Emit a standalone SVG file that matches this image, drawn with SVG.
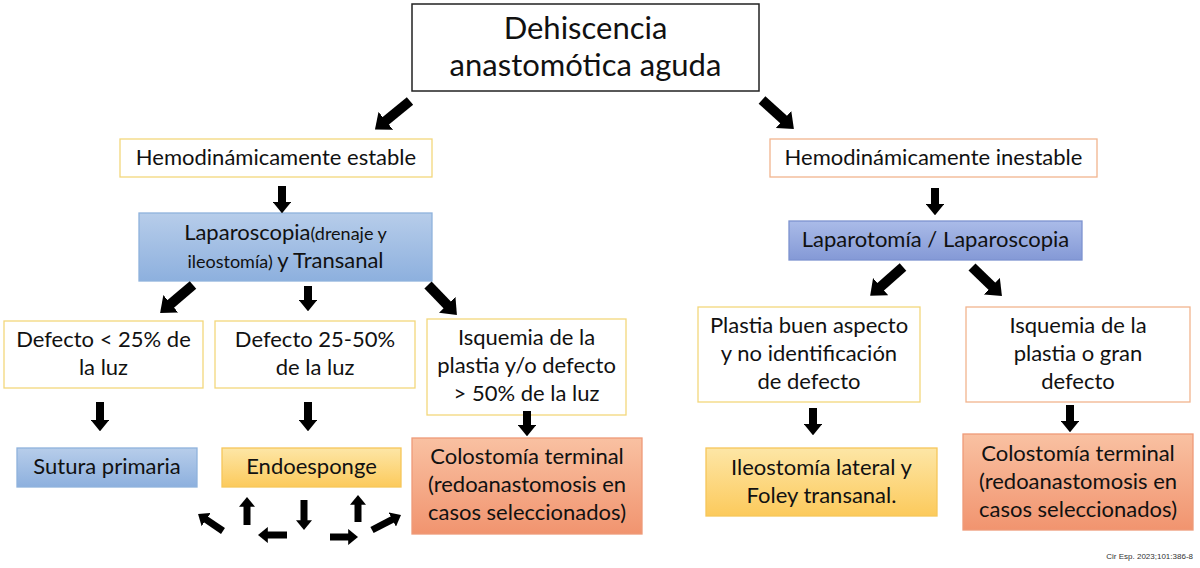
<svg xmlns="http://www.w3.org/2000/svg" width="1200" height="568" viewBox="0 0 1200 568">
<defs>
<linearGradient id="gBlue" x1="0" y1="0" x2="0" y2="1"><stop offset="0" stop-color="#b7cdea"/><stop offset="1" stop-color="#8db0de"/></linearGradient>
<linearGradient id="gPurple" x1="0" y1="0" x2="0" y2="1"><stop offset="0" stop-color="#aabbe8"/><stop offset="1" stop-color="#8499d6"/></linearGradient>
<linearGradient id="gYellow" x1="0" y1="0" x2="0" y2="1"><stop offset="0" stop-color="#fde6a6"/><stop offset="1" stop-color="#fcca5c"/></linearGradient>
<linearGradient id="gSalmon" x1="0" y1="0" x2="0" y2="1"><stop offset="0" stop-color="#f9c1a2"/><stop offset="1" stop-color="#f1946f"/></linearGradient>
<marker id="ah" viewBox="0 0 6 10" refX="0.5" refY="5" markerWidth="1.4" markerHeight="2.3" orient="auto" preserveAspectRatio="none"><path d="M0,0 L6,5 L0,10 z" fill="#000"/></marker>
<style>
text{font-family:Lato,"Liberation Sans",sans-serif;fill:#111;text-anchor:middle}
.t{font-size:22px}
.s{font-size:18px}
.title{font-size:31px}
.w{fill:#fff;stroke-width:1.3}
.yb{stroke:#f3d77c}
.ob{stroke:#f2b48e}
.blue{fill:url(#gBlue);stroke:#8fb2dc;stroke-width:1.3}
.purple{fill:url(#gPurple);stroke:#7d93cf;stroke-width:1.3}
.yel{fill:url(#gYellow);stroke:#f6c65a;stroke-width:1.3}
.sal{fill:url(#gSalmon);stroke:#ee9a78;stroke-width:1.3}
.a{stroke:#000;stroke-width:8;fill:none;marker-end:url(#ah)}
.ad{stroke:#000;stroke-width:10;fill:none;marker-end:url(#ah)}
.a2{stroke:#000;stroke-width:7;fill:none;marker-end:url(#ah)}
.cite{font-family:"Liberation Sans",sans-serif;font-size:8px;text-anchor:end;fill:#333}
</style>
</defs>
<rect width="1200" height="568" fill="#fff"/>

<g id="n-root">
<rect x="412" y="4" width="347" height="87" fill="#fff" stroke="#222" stroke-width="1.5"/>
<text class="title" x="585.5" y="39">Dehiscencia</text>
<text class="title" x="585.5" y="76">anastomótica aguda</text>
</g>

<g id="n-estable">
<rect class="w yb" x="120" y="139" width="312" height="38"/>
<text class="t" x="276" y="165">Hemodinámicamente estable</text>
</g>

<g id="n-laparoscopia">
<rect class="blue" x="139" y="213" width="293" height="68"/>
<text x="285.5" y="240"><tspan class="t">Laparoscopia</tspan><tspan class="s">(drenaje y</tspan></text>
<text x="285.5" y="268"><tspan class="s">ileostomía) </tspan><tspan class="t">y Transanal</tspan></text>
</g>

<g id="n-def25">
<rect class="w yb" x="4" y="321" width="199" height="67"/>
<text class="t" x="103.5" y="347">Defecto &lt; 25% de</text>
<text class="t" x="103.5" y="375">la luz</text>
</g>

<g id="n-def2550">
<rect class="w yb" x="215" y="321" width="200" height="67"/>
<text class="t" x="315" y="347">Defecto 25-50%</text>
<text class="t" x="315" y="375">de la luz</text>
</g>

<g id="n-isq1">
<rect class="w yb" x="427" y="319" width="199" height="96"/>
<text class="t" x="526.5" y="345">Isquemia de la</text>
<text class="t" x="526.5" y="373">plastia y/o defecto</text>
<text class="t" x="526.5" y="401">&gt; 50% de la luz</text>
</g>

<g id="n-sutura">
<rect class="blue" x="17" y="448" width="180" height="39"/>
<text class="t" x="107" y="474">Sutura primaria</text>
</g>

<g id="n-endo">
<rect class="yel" x="222" y="448" width="179" height="39"/>
<text class="t" x="311.5" y="474">Endoesponge</text>
</g>

<g id="n-colo1">
<rect class="sal" x="412" y="438" width="230" height="96"/>
<text class="t" x="527" y="464">Colostomía terminal</text>
<text class="t" x="527" y="492">(redoanastomosis en</text>
<text class="t" x="527" y="520">casos seleccionados)</text>
</g>

<g id="n-inestable">
<rect class="w ob" x="770" y="139" width="327" height="38"/>
<text class="t" x="933.5" y="165">Hemodinámicamente inestable</text>
</g>

<g id="n-laparotomia">
<rect class="purple" x="789" y="221" width="293" height="39"/>
<text class="t" x="935.5" y="247">Laparotomía / Laparoscopia</text>
</g>

<g id="n-plastia">
<rect class="w yb" x="698" y="307" width="222" height="95"/>
<text class="t" x="809" y="333">Plastia buen aspecto</text>
<text class="t" x="809" y="361">y no identificación</text>
<text class="t" x="809" y="389">de defecto</text>
</g>

<g id="n-isq2">
<rect class="w ob" x="966" y="307" width="224" height="95"/>
<text class="t" x="1078" y="333">Isquemia de la</text>
<text class="t" x="1078" y="361">plastia o gran</text>
<text class="t" x="1078" y="389">defecto</text>
</g>

<g id="n-ileo">
<rect class="yel" x="706" y="448" width="231" height="68"/>
<text class="t" x="821.5" y="475">Ileostomía lateral y</text>
<text class="t" x="821.5" y="503">Foley transanal.</text>
</g>

<g id="n-colo2">
<rect class="sal" x="963" y="434" width="230" height="96"/>
<text class="t" x="1078" y="461">Colostomía terminal</text>
<text class="t" x="1078" y="489">(redoanastomosis en</text>
<text class="t" x="1078" y="517">casos seleccionados)</text>
</g>

<g id="connectors">
<line class="ad" x1="410" y1="101" x2="384.9" y2="121.5"/>
<line class="ad" x1="762" y1="100" x2="784.4" y2="120.3"/>
<line class="a" x1="282" y1="186" x2="282" y2="203"/>
<line class="ad" x1="193" y1="285" x2="169.9" y2="304.6"/>
<line class="a" x1="308" y1="286" x2="308" y2="301"/>
<line class="ad" x1="428" y1="285" x2="448" y2="305.7"/>
<line class="a" x1="100" y1="402" x2="100" y2="421"/>
<line class="a" x1="308" y1="402" x2="308" y2="421"/>
<line class="a" x1="527" y1="411" x2="527" y2="426"/>
<line class="a" x1="935" y1="188" x2="935" y2="205"/>
<line class="ad" x1="903" y1="267" x2="879.8" y2="287.4"/>
<line class="ad" x1="972" y1="267" x2="992.7" y2="287"/>
<line class="a" x1="813" y1="408" x2="813" y2="425"/>
<line class="a" x1="1070" y1="405" x2="1070" y2="422"/>
<line class="a2" x1="223" y1="531" x2="205.5" y2="519.1"/>
<line class="a2" x1="247" y1="525" x2="247" y2="506"/>
<line class="a2" x1="287" y1="535" x2="267" y2="535"/>
<line class="a2" x1="304" y1="500" x2="304" y2="521"/>
<line class="a2" x1="330" y1="537" x2="349" y2="537"/>
<line class="a2" x1="358" y1="522" x2="358" y2="504"/>
<line class="a2" x1="372" y1="530" x2="393" y2="519.1"/>
</g>

<text class="cite" x="1193" y="559">Cir Esp. 2023;101:386-8</text>
</svg>
